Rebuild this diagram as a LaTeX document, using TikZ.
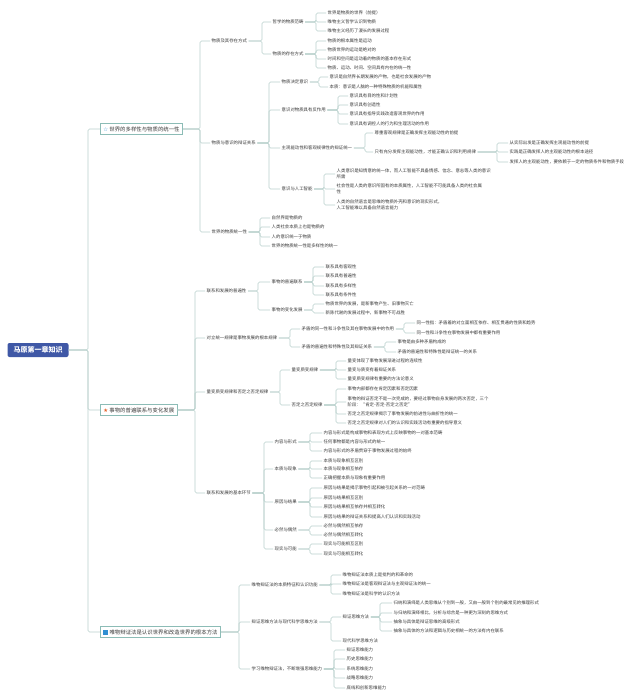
\documentclass[tikz,border=0pt]{standalone}
\usepackage{fontspec}
\setmainfont{Noto Sans CJK SC}
\newfontfamily\symfont{DejaVu Sans}
\definecolor{linec}{HTML}{B9D1CD}
\definecolor{boxline}{HTML}{8CBCB6}
\definecolor{rootblue}{HTML}{3F58A6}
\definecolor{txt}{HTML}{3A3A3A}
\definecolor{starblue}{HTML}{2F8FD2}
\definecolor{starred}{HTML}{E5622A}
\tikzset{
  root/.style={fill=rootblue, rounded corners=2pt, text=white, minimum width=61pt,
    minimum height=14pt, inner sep=1pt, font=\fontsize{7}{8}\selectfont\bfseries},
  topic/.style={anchor=west, draw=boxline, line width=0.7pt, fill=white, text=txt,
    inner xsep=3pt, minimum height=11pt, inner ysep=1pt, font=\fontsize{5.4}{6.4}\selectfont},
  leaf/.style={anchor=west, inner xsep=1.5pt, inner ysep=0.8pt, text=txt, align=left,
    font=\fontsize{4.4}{5.6}\selectfont},
  link/.style={draw=linec, line width=0.6pt, rounded corners=1.5pt}
}
% parent, x of the spine, list of children
\newcommand{\lnks}[3]{\foreach \c in {#3}{\draw[link] (#1.east) -- (#2,0 |- #1.east) |- (\c.west);}}

\begin{document}
\begin{tikzpicture}[x=1pt,y=-1pt]
\useasboundingbox (0,0) rectangle (640,700);
\fill[white] (0,0) rectangle (640,700);

% root and main topics
\node[root] (root) at (38,350) {马原第一章知识};
\node[topic] (t1) at (100,129) {{\symfont\color{starblue}☆} 世界的多样性与物质的统一性};
\node[topic] (t2) at (100,410) {{\symfont\color{starred}★} 事物的普遍联系与变化发展};
\node[topic] (t3) at (100,632) {{\color{starblue}\rule[-0.5pt]{5pt}{4.5pt}} 唯物辩证法是认识世界和改造世界的根本方法};

% topic 1
\node[leaf] (a1) at (210,41) {物质及其存在方式};
\node[leaf] (a2) at (210,143) {物质与意识的辩证关系};
\node[leaf] (a3) at (210,232) {世界的物质统一性};
\node[leaf] (a11) at (271,22) {哲学的物质范畴};
\node[leaf] (a12) at (271,54) {物质的存在方式};
\node[leaf] (a111) at (326,13) {世界是物质的世界（前提）};
\node[leaf] (a112) at (326,22) {唯物主义哲学认识到物质};
\node[leaf] (a113) at (326,31) {唯物主义经历了漫长的发展过程};
\node[leaf] (a121) at (326,41) {物质的根本属性是运动};
\node[leaf] (a122) at (326,50) {物质世界的运动是绝对的};
\node[leaf] (a123) at (326,59) {时间和空间是运动着的物质的基本存在形式};
\node[leaf] (a124) at (326,68) {物质、运动、时间、空间具有内在的统一性};
\node[leaf] (a21) at (280,82) {物质决定意识};
\node[leaf] (a22) at (280,110) {意识对物质具有反作用};
\node[leaf] (a23) at (280,148) {主观能动性和客观规律性的辩证统一};
\node[leaf] (a24) at (280,189) {意识与人工智能};
\node[leaf] (a211) at (328,77) {意识是自然界长期发展的产物，也是社会发展的产物};
\node[leaf] (a212) at (328,87) {本质：意识是人脑的一种特殊物质的机能和属性};
\node[leaf] (a221) at (348,96) {意识具有目的性和计划性};
\node[leaf] (a222) at (348,105) {意识具有创造性};
\node[leaf] (a223) at (348,114) {意识具有指导实践改造客观世界的作用};
\node[leaf] (a224) at (348,124) {意识具有调控人的行为和生理活动的作用};
\node[leaf] (a231) at (373,133) {尊重客观规律是正确发挥主观能动性的前提};
\node[leaf] (a232) at (373,152) {只有充分发挥主观能动性，才能正确认识和利用规律};
\node[leaf] (a2321) at (508,143) {从实际出发是正确发挥主观能动性的前提};
\node[leaf] (a2322) at (508,152) {实践是正确发挥人的主观能动性的根本途径};
\node[leaf] (a2323) at (508,162) {发挥人的主观能动性，要依赖于一定的物质条件和物质手段};
\node[leaf] (a241) at (335,174) {人类意识是知情意的统一体，而人工智能不具备情感、信念、意志等人类的意识\\所需};
\node[leaf] (a242) at (335,189) {社会性是人类的意识所固有的本质属性，人工智能不可能具备人类的社会属\\性};
\node[leaf] (a243) at (335,205) {人类的自然语言是思维的物质外壳和意识的现实形式，\\人工智能难以具备自然语言能力};
\node[leaf] (a31) at (270,218) {自然界是物质的};
\node[leaf] (a32) at (270,227) {人类社会本质上也是物质的};
\node[leaf] (a33) at (270,237) {人的意识统一于物质};
\node[leaf] (a34) at (270,246) {世界的物质统一性是多样性的统一};

% topic 2
\node[leaf] (b1) at (205,291) {联系和发展的普遍性};
\node[leaf] (b2) at (205,338) {对立统一规律是事物发展的根本规律};
\node[leaf] (b3) at (205,392) {量变质变规律和否定之否定规律};
\node[leaf] (b4) at (205,493) {联系和发展的基本环节};
\node[leaf] (b11) at (270,282) {事物的普遍联系};
\node[leaf] (b12) at (270,310) {事物的变化发展};
\node[leaf] (b111) at (324,267) {联系具有客观性};
\node[leaf] (b112) at (324,276) {联系具有普遍性};
\node[leaf] (b113) at (324,286) {联系具有多样性};
\node[leaf] (b114) at (324,295) {联系具有条件性};
\node[leaf] (b121) at (324,304) {物质世界的发展，是新事物产生、旧事物灭亡};
\node[leaf] (b122) at (324,313) {新陈代谢的发展过程中，新事物不可战胜};
\node[leaf] (b21) at (300,329) {矛盾的同一性和斗争性及其在事物发展中的作用};
\node[leaf] (b22) at (300,347) {矛盾的普遍性和特殊性及其辩证关系};
\node[leaf] (b211) at (415,323) {同一性指：矛盾着的对立面相互依存、相互贯通的性质和趋势};
\node[leaf] (b212) at (415,333) {同一性和斗争性在事物发展中都有重要作用};
\node[leaf] (b221) at (396,342) {事物是由多种矛盾构成的};
\node[leaf] (b222) at (396,352) {矛盾的普遍性和特殊性是辩证统一的关系};
\node[leaf] (b31) at (290,370) {量变质变规律};
\node[leaf] (b32) at (290,405) {否定之否定规律};
\node[leaf] (b311) at (346,361) {量变体现了事物发展渐进过程的连续性};
\node[leaf] (b312) at (346,370) {量变与质变有着辩证关系};
\node[leaf] (b313) at (346,379) {量变质变规律有重要的方法论意义};
\node[leaf] (b321) at (346,389) {事物内部都存在肯定因素和否定因素};
\node[leaf] (b322) at (346,402) {事物的辩证否定不是一次完成的，要经过事物自身发展的两次否定，三个\\阶段：“肯定-否定-否定之否定”};
\node[leaf] (b323) at (346,414) {否定之否定规律揭示了事物发展的前进性与曲折性的统一};
\node[leaf] (b324) at (346,423) {否定之否定规律对人们的认识和实践活动有重要的指导意义};
\node[leaf] (b41) at (273,442) {内容与形式};
\node[leaf] (b42) at (273,469) {本质与现象};
\node[leaf] (b43) at (273,502) {原因与结果};
\node[leaf] (b44) at (273,530) {必然与偶然};
\node[leaf] (b45) at (273,549) {现实与可能};
\node[leaf] (b411) at (322,433) {内容与形式是构成事物和表现方式上反映事物的一对基本范畴};
\node[leaf] (b412) at (322,442) {任何事物都是内容与形式的统一};
\node[leaf] (b413) at (322,451) {内容与形式的矛盾贯穿于事物发展过程的始终};
\node[leaf] (b421) at (322,461) {本质与现象相互区别};
\node[leaf] (b422) at (322,469) {本质与现象相互依存};
\node[leaf] (b423) at (322,478) {正确把握本质与现象有重要作用};
\node[leaf] (b431) at (322,488) {原因与结果是揭示事物引起和被引起关系的一对范畴};
\node[leaf] (b432) at (322,498) {原因与结果相互区别};
\node[leaf] (b433) at (322,507) {原因与结果相互依存并相互转化};
\node[leaf] (b434) at (322,517) {原因与结果的辩证关系和提高人们认识和实践活动};
\node[leaf] (b441) at (322,526) {必然与偶然相互依存};
\node[leaf] (b442) at (322,535) {必然与偶然相互转化};
\node[leaf] (b451) at (322,544) {现实与可能相互区别};
\node[leaf] (b452) at (322,554) {现实与可能相互转化};

% topic 3
\node[leaf] (c1) at (250,585) {唯物辩证法的本质特征和认识功能};
\node[leaf] (c2) at (250,622) {辩证思维方法与现代科学思维方法};
\node[leaf] (c3) at (250,669) {学习唯物辩证法，不断增强思维能力};
\node[leaf] (c11) at (341,575) {唯物辩证法本质上是批判的和革命的};
\node[leaf] (c12) at (341,584) {唯物辩证法是客观辩证法与主观辩证法的统一};
\node[leaf] (c13) at (341,594) {唯物辩证法是科学的认识方法};
\node[leaf] (c21) at (341,617) {辩证思维方法};
\node[leaf] (c22) at (341,641) {现代科学思维方法};
\node[leaf] (c211) at (392,603) {归纳和演绎是人类思维从个别到一般，又由一般到个别的最常见的推理形式};
\node[leaf] (c212) at (392,613) {与归纳和演绎相比，分析与综合是一种更为深刻的思维方式};
\node[leaf] (c213) at (392,622) {抽象与具体是辩证思维的高级形式};
\node[leaf] (c214) at (392,631) {抽象与具体的方法和逻辑与历史相统一的方法有内在联系};
\node[leaf] (c31) at (345,650) {辩证思维能力};
\node[leaf] (c32) at (345,659) {历史思维能力};
\node[leaf] (c33) at (345,669) {系统思维能力};
\node[leaf] (c34) at (345,678) {战略思维能力};
\node[leaf] (c35) at (345,688) {底线和创新思维能力};

% connectors
\lnks{root}{88}{t1,t2,t3}
\lnks{t1}{200}{a1,a2,a3}
\lnks{a1}{262}{a11,a12}
\lnks{a11}{316}{a111,a112,a113}
\lnks{a12}{316}{a121,a122,a123,a124}
\lnks{a2}{269}{a21,a22,a23,a24}
\lnks{a21}{319}{a211,a212}
\lnks{a22}{338}{a221,a222,a223,a224}
\lnks{a23}{365}{a231,a232}
\lnks{a232}{497}{a2321,a2322,a2323}
\lnks{a24}{324}{a241,a242,a243}
\lnks{a3}{260}{a31,a32,a33,a34}
\lnks{t2}{195}{b1,b2,b3,b4}
\lnks{b1}{258}{b11,b12}
\lnks{b11}{313}{b111,b112,b113,b114}
\lnks{b12}{313}{b121,b122}
\lnks{b2}{290}{b21,b22}
\lnks{b21}{404}{b211,b212}
\lnks{b22}{385}{b221,b222}
\lnks{b3}{280}{b31,b32}
\lnks{b31}{336}{b311,b312,b313}
\lnks{b32}{336}{b321,b322,b323,b324}
\lnks{b4}{264}{b41,b42,b43,b44,b45}
\lnks{b41}{310}{b411,b412,b413}
\lnks{b42}{310}{b421,b422,b423}
\lnks{b43}{310}{b431,b432,b433,b434}
\lnks{b44}{310}{b441,b442}
\lnks{b45}{310}{b451,b452}
\lnks{t3}{239}{c1,c2,c3}
\lnks{c1}{331}{c11,c12,c13}
\lnks{c2}{331}{c21,c22}
\lnks{c21}{380}{c211,c212,c213,c214}
\lnks{c3}{334}{c31,c32,c33,c34,c35}
\end{tikzpicture}
\end{document}
